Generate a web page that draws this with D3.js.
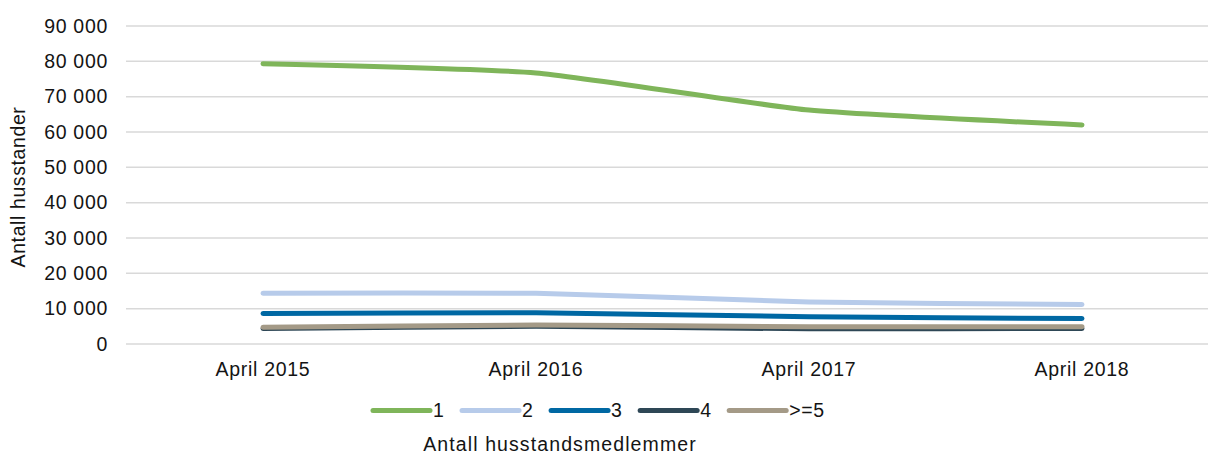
<!DOCTYPE html>
<html>
<head>
<meta charset="utf-8">
<script src="https://cdn.jsdelivr.net/npm/d3@7"></script>
<style>
  body { margin: 0; background: #fff; }
  svg text { font-family: "Liberation Sans", Arial, sans-serif; fill: #141414; }
</style>
</head>
<body>
<svg id="chart" width="1208" height="455"></svg>
<script>
// Data
const categories = ["April 2015", "April 2016", "April 2017", "April 2018"];
const seriesNames = ["1", "2", "3", "4", ">=5"];
const seriesColors = ["#7fb55a", "#b7cbea", "#0068a3", "#2e4756", "#a49a87"];
const values1 = [79300, 76700, 66200, 62000];
const values2 = [14350, 14350, 11900, 11150];
const values3 = [8600, 8850, 7700, 7200];
const values4 = [4400, 5000, 4300, 4400];
const values5 = [4750, 5350, 4900, 4850];
const yTicks = [0, 10000, 20000, 30000, 40000, 50000, 60000, 70000, 80000, 90000];

const allValues = [values1, values2, values3, values4, values5];

const svg = d3.select("#chart");
const margin = {top: 26, left: 126, bottom: 111};
const height = 455 - margin.bottom;

// category bands run a bit past the right edge, like the cropped original
const x = d3.scalePoint()
  .domain(categories)
  .range([263, 1082]);

const y = d3.scaleLinear()
  .domain([0, 90000])
  .range([height, margin.top]);

const fmt = v => d3.format(",")(v).replace(/,/g, " ");

// gridlines
svg.append("g")
  .selectAll("line")
  .data(yTicks)
  .enter()
  .append("line")
  .attr("x1", margin.left)
  .attr("x2", 1208)
  .attr("y1", d => y(d))
  .attr("y2", d => y(d))
  .attr("stroke", "#d9d9d9")
  .attr("stroke-width", 1.5);

// y tick labels
svg.append("g")
  .selectAll("text")
  .data(yTicks)
  .enter()
  .append("text")
  .attr("x", 108)
  .attr("y", d => y(d))
  .attr("dy", "0.35em")
  .attr("text-anchor", "end")
  .style("font-size", "19.5px")
  .style("letter-spacing", "0.7px")
  .text(d => fmt(d));

// x tick labels
svg.append("g")
  .selectAll("text")
  .data(categories)
  .enter()
  .append("text")
  .attr("x", d => x(d))
  .attr("y", 376)
  .attr("text-anchor", "middle")
  .style("font-size", "19.5px")
  .style("letter-spacing", "0.7px")
  .text(d => d);

// y axis title
svg.append("text")
  .attr("transform", "translate(25,187) rotate(-90)")
  .attr("text-anchor", "middle")
  .style("font-size", "19.5px")
  .style("letter-spacing", "0.6px")
  .text("Antall husstander");

// lines
const line = d3.line()
  .x((d, i) => x(categories[i]))
  .y(d => y(d))
  .curve(d3.curveCardinal.tension(0.5));

svg.append("g")
  .selectAll("path")
  .data(allValues)
  .enter()
  .append("path")
  .attr("d", d => line(d))
  .attr("fill", "none")
  .attr("stroke", (d, i) => seriesColors[i])
  .attr("stroke-width", 5)
  .attr("stroke-linecap", "round")
  .attr("stroke-linejoin", "round");

// legend
const legend = svg.append("g");
let lx = 373;
seriesNames.forEach((name, i) => {
  legend.append("line")
    .attr("x1", lx)
    .attr("x2", lx + 57)
    .attr("y1", 410.5)
    .attr("y2", 410.5)
    .attr("stroke", seriesColors[i])
    .attr("stroke-width", 5)
    .attr("stroke-linecap", "round");
  const t = legend.append("text")
    .attr("x", lx + 60)
    .attr("y", 410.5)
    .attr("dy", "0.35em")
    .style("font-size", "19.5px")
    .style("letter-spacing", "0.7px")
    .text(name);
  lx += 60 + t.node().getComputedTextLength() + 17.5;
});

// legend title
svg.append("text")
  .attr("x", 560)
  .attr("y", 451)
  .attr("text-anchor", "middle")
  .style("font-size", "19.5px")
  .style("letter-spacing", "1.1px")
  .text("Antall husstandsmedlemmer");
</script>
</body>
</html>
